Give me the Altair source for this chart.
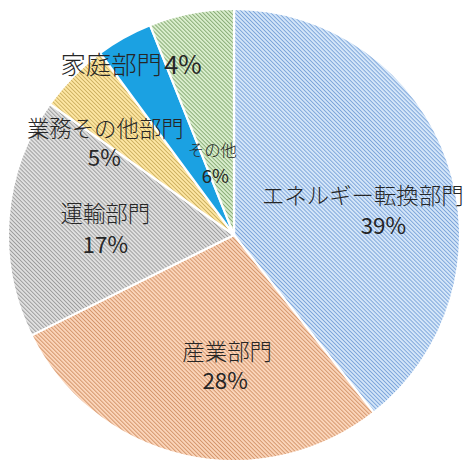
import math
import altair as alt
import pandas as pd

# ---- data ----
categories = ["エネルギー転換部門", "産業部門", "運輸部門", "業務その他部門", "家庭部門", "その他"]
shares = [39, 28, 17, 5, 4, 6]
pct_labels = ["39%", "28%", "17%", "5%", "4%", "6%"]

df = pd.DataFrame({"cat": categories, "value": shares, "pct": pct_labels,
                   "idx": list(range(len(categories)))})

# ---- layout / style ----
R = 227
CX, CY = 227, 227
FONT = "Noto Sans CJK JP"
TXT = "#262626"

light = {"エネルギー転換部門": "#d3e5f8", "産業部門": "#fad4b9", "運輸部門": "#dfdfdf",
         "業務その他部門": "#fee7a4", "その他": "#d9edcc"}
dark = {"エネルギー転換部門": "#7da5da", "産業部門": "#d4966c", "運輸部門": "#9d9d9d",
        "業務その他部門": "#cdb162", "その他": "#86aa74"}
solid = {"家庭部門": "#1ba1e2"}

# label placement: radius, (dx,dy) name, (dx,dy) pct, name size, pct size
label_layout = {
    "エネルギー転換部門": (141.6, (-4.5, 7.8), (16.2, 38.4), 22.5, 22.5),
    "産業部門": (133.5, (22.5, -11.8), (20.5, 17.9), 22.5, 22.5),
    "運輸部門": (129.4, (-0.3, -9.4), (-0.3, 21.2), 22.5, 22.5),
    "業務その他部門": (158.4, (-16.4, 5.5), (-17.4, 35.1), 22.5, 22.5),
    "家庭部門": (190.9, (-30.6, -3.0), (41.5, -3.0), 25.5, 25.5),
    "その他": (73.4, (-7.8, -12.0), (-4.9, 13.9), 16.5, 18.5),
}

PERIOD = 4.0
# stripe profile inside one period: (position, "d"ark / "l"ight)
PROFILE = [(0.0, "d"), (1.3, "l"), (2.7, "l")]


def sector_bbox(a0, a1, r):
    pts = [(0.0, 0.0), (r * math.sin(a0), -r * math.cos(a0)),
           (r * math.sin(a1), -r * math.cos(a1))]
    for k in range(0, 5):
        ang = k * math.pi / 2
        if a0 < ang < a1:
            pts.append((r * math.sin(ang), -r * math.cos(ang)))
    xs = [p[0] for p in pts]
    ys = [p[1] for p in pts]
    return min(xs), min(ys), max(xs), max(ys)


def stripe_gradient(a0, a1, c_light, c_dark):
    x0, y0, x1, y1 = sector_bbox(a0, a1, R)
    w, h = x1 - x0, y1 - y0
    span = w + h
    umin = x0 - y0 - h
    umax = x0 - y0 + w
    stops = []
    k = math.floor(umin / PERIOD) - 1
    while k * PERIOD <= umax + PERIOD:
        for pos, kind in PROFILE:
            u = k * PERIOD + pos
            t = (u - umin) / span
            if -0.02 <= t <= 1.02:
                stops.append((t, c_dark if kind == "d" else c_light))
        k += 1
    stops = [(min(max(t, 0.0), 1.0), c) for t, c in stops]
    L2 = w * w + h * h
    return alt.LinearGradient(
        gradient="linear",
        stops=[alt.GradientStop(color=c, offset=round(o, 6)) for o, c in stops],
        x1=0, y1=1, x2=w * span / L2, y2=1 - h * span / L2,
    )


total = sum(shares)
theta = alt.Theta("value:Q", stack=True)
order = alt.Order("idx:Q")

layers = []
cum = 0
for cat, v in zip(categories, shares):
    a0 = cum / total * 2 * math.pi
    a1 = (cum + v) / total * 2 * math.pi
    cum += v
    fill = solid[cat] if cat in solid else stripe_gradient(a0, a1, light[cat], dark[cat])
    layers.append(
        alt.Chart().mark_arc(outerRadius=R, fill=fill, stroke="white", strokeWidth=2.2)
        .encode(theta=theta, order=order,
                x=alt.value(CX), y=alt.value(CY),
                opacity=alt.condition(alt.datum.cat == cat, alt.value(1), alt.value(0)))
    )

for cat in categories:
    rad, (ndx, ndy), (pdx, pdy), nsize, psize = label_layout[cat]
    for field, dx, dy, size in (("cat", ndx, ndy, nsize), ("pct", pdx, pdy, psize)):
        layers.append(
            alt.Chart().mark_text(radius=rad, dx=dx, dy=dy, font=FONT, fontSize=size,
                                  fontWeight=300 if field == "cat" else "normal",
                                  color=TXT, align="center", baseline="middle")
            .encode(theta=theta, order=order,
                    text=alt.condition(alt.datum.cat == cat, alt.Text(f"{field}:N"), alt.value("")),
                    x=alt.value(CX), y=alt.value(CY))
        )

chart = (
    alt.layer(*layers, data=df)
    .properties(width=462, height=456, padding=0,
                autosize=alt.AutoSizeParams(type="none"))
    .configure_view(stroke=None)
)

chart.save("out.html", embed_options={"renderer": "svg", "actions": False})
